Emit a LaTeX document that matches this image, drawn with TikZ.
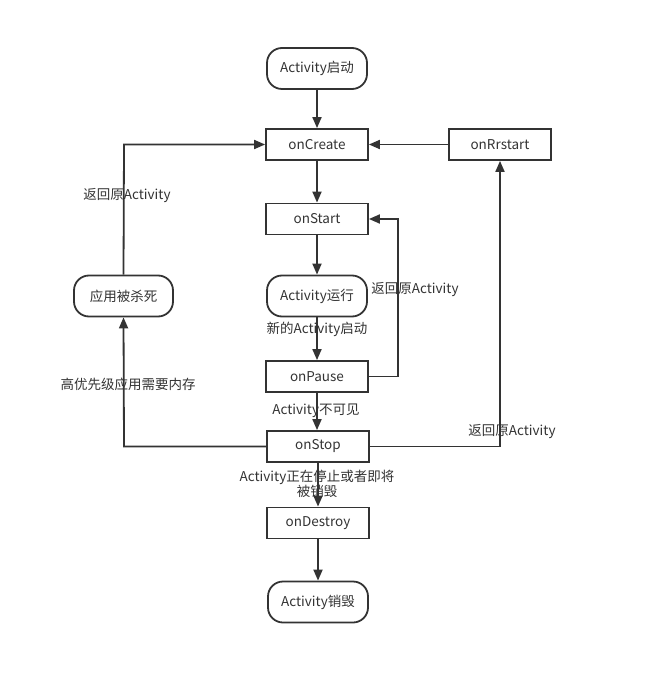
\documentclass[tikz,border=0pt]{standalone}
\usepackage{fontspec}
\setmainfont{Noto Sans CJK SC}
\usepackage{xcolor}
\usetikzlibrary{arrows.meta,positioning,calc}
\definecolor{lcline}{HTML}{333333}
\tikzset{
  lcstep/.style={rectangle,draw=lcline,line width=1.8pt,minimum width=102pt,minimum height=31pt,inner sep=0pt,font=\fontsize{13.5}{15}\selectfont,text=lcline},
  lcterm/.style={lcstep,rounded corners=15pt,minimum width=100pt,minimum height=41pt},
  lcarrow/.style={-{Triangle[length=11pt,width=9pt]},draw=lcline,line width=1.8pt},
  lclabel/.style={inner sep=0pt,font=\fontsize{13.5}{15}\selectfont,text=lcline,align=center}
}
\begin{document}
\begin{tikzpicture}[
  x=1pt,
  y=-1pt
]
  \useasboundingbox (0,0) rectangle (655,684);

  % --------------------------------------------------------------
  % The main column of lifecycle states.
  % --------------------------------------------------------------
  \node[lcterm] (begin)   at (317,68.5) {Activity启动};
  \node[lcstep] (create)  at (317,144.5) {onCreate};
  \node[lcstep] (start)   at (317,219) {onStart};
  \node[lcterm] (running) at (317,296) {Activity运行};
  \node[lcstep] (pause)   at (317,376.5) {onPause};
  \node[lcstep] (stop)    at (318,446.5) {onStop};
  \node[lcstep] (destroy) at (318,523) {onDestroy};
  \node[lcterm] (finish)  at (318,602) {Activity销毁};

  % --------------------------------------------------------------
  % Side states.
  % --------------------------------------------------------------
  \node[lcstep] (restart) at (500,144.5) {onRrstart};
  \node[lcterm,minimum width=99pt] (killed) at (123.5,296) {应用被杀死};

  % --------------------------------------------------------------
  % Corners of the bent connectors.
  % --------------------------------------------------------------
  \coordinate (cPause)  at (398,376.5);
  \coordinate (cStart)  at (398,219);
  \coordinate (cStopL)  at (124,446.5);
  \coordinate (cStopR)  at (500,446.5);
  \coordinate (cKilled) at (124,144.5);

  % --------------------------------------------------------------
  % Straight arrows down the column.
  % --------------------------------------------------------------
  \draw[lcarrow] (begin) -- (create);
  \draw[lcarrow] (create) -- (start);
  \draw[lcarrow] (start) -- (running);
  \draw[lcarrow] (running) -- (pause);
  \draw[lcarrow] (pause.south) -- (stop.north -| pause.south);
  \draw[lcarrow] (stop) -- (destroy);
  \draw[lcarrow] (destroy) -- (finish);
  \draw[lcarrow] (restart) -- (create);

  % Bent arrows
  \draw[lcarrow] (pause.east) -- (cPause) -- (cStart) -- (start.east);
  \draw[lcarrow] (stop.west) -- (cStopL) -- (killed.south);
  \draw[lcarrow] (killed.north) -- (cKilled) -- (create.west);
  \draw[lcarrow] (stop.east) -- (cStopR) -- (restart.south);

  % --------------------------------------------------------------
  % Labels on the connectors.
  % --------------------------------------------------------------
  \node[lclabel] (lNew)    at (317,329) {新的Activity启动};
  \node[lclabel] (lBack)   at (415,289.5) {返回原Activity};
  \node[lclabel] (lHidden) at (316,411) {Activity不可见};
  \node[lclabel] (lMemory) at (128,384.5) {高优先级应用需要内存};
  \node[lclabel] (lReturn) at (127,195.5) {返回原Activity};
  \node[lclabel] (lAgain)  at (512,431.5) {返回原Activity};
  \node[lclabel] (lEnding) at (317,483.5) {Activity正在停止或者即将\\被销毁};

\end{tikzpicture}
\end{document}
